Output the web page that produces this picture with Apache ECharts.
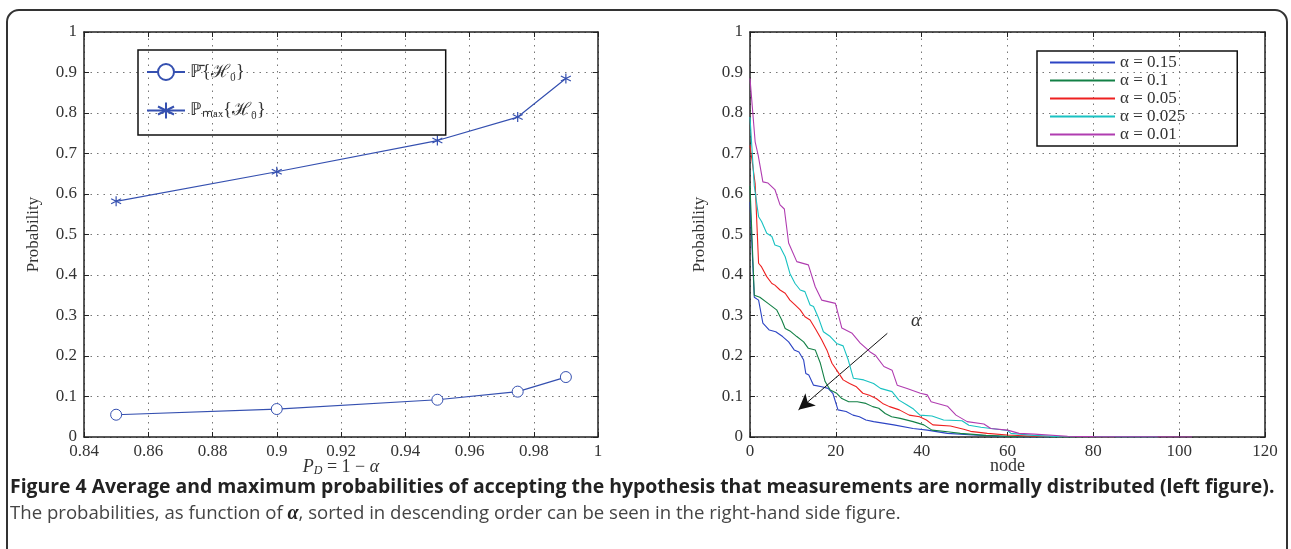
<!DOCTYPE html>
<html>
<head>
<meta charset="utf-8">
<script src="https://cdn.jsdelivr.net/npm/echarts@6/dist/echarts.min.js"></script>
<style>
  html, body { margin: 0; padding: 0; background: #fff; }
  #chart { width: 1291px; height: 549px; }
</style>
</head>
<body>
<div id="chart"></div>
<script>
// left figure: detection probability P_D = 1 - alpha
const pdValues = [0.85, 0.9, 0.95, 0.975, 0.99];
const probMean = [0.055, 0.069, 0.092, 0.112, 0.148];
const probMax = [0.582, 0.655, 0.732, 0.79, 0.885];

// right figure: sorted probabilities per node, [node, probability]
const alpha015 = [[0,0.58],[1,0.345],[2,0.338],[3,0.281],[4.5,0.264],[6,0.26],[7.6,0.248],[9,0.235],[10.3,0.215],[11.4,0.21],[12.5,0.19],[13,0.157],[13.7,0.153],[14.8,0.128],[16.7,0.124],[18.2,0.12],[19.3,0.108],[20.5,0.067],[22.4,0.063],[24,0.054],[25.5,0.05],[27,0.042],[28.8,0.038],[33.5,0.03],[38,0.021],[41.3,0.017],[46,0.009],[52,0.005],[58,0.002],[64,0],[70,0]];
const alpha01 = [[0,0.62],[1,0.35],[2.3,0.345],[4.2,0.33],[6.2,0.314],[7.4,0.289],[8.2,0.268],[9.3,0.262],[10.9,0.248],[12.5,0.235],[13.6,0.219],[15.2,0.215],[16.4,0.182],[17.5,0.137],[18.7,0.116],[20.2,0.108],[21.4,0.095],[23,0.087],[25,0.087],[27,0.083],[28.6,0.075],[30,0.071],[31.5,0.058],[33,0.05],[35,0.046],[38,0.038],[40.5,0.03],[42.4,0.017],[46,0.013],[49,0.009],[55,0.004],[62,0.001],[75,0]];
const alpha005 = [[0,0.72],[1.2,0.626],[2,0.429],[2.7,0.42],[3.9,0.396],[5.1,0.379],[5.8,0.375],[7,0.363],[8.2,0.355],[9.3,0.338],[10.5,0.326],[11.7,0.314],[12.8,0.297],[14,0.289],[15.2,0.268],[16.7,0.24],[17.9,0.215],[19.1,0.182],[20.2,0.165],[21.7,0.141],[23.2,0.132],[24.8,0.124],[26.3,0.108],[27.8,0.103],[29.4,0.095],[30.9,0.083],[32.5,0.075],[34.8,0.067],[37.1,0.054],[39.5,0.05],[41.1,0.042],[42.6,0.03],[46.7,0.027],[49.8,0.019],[51.4,0.014],[55.3,0.009],[60,0.005],[66,0.002],[85,0]];
const alpha0025 = [[0,0.79],[1,0.62],[2,0.544],[2.7,0.532],[3.9,0.503],[5.1,0.495],[5.8,0.474],[7,0.47],[8.2,0.445],[9.3,0.404],[10.5,0.379],[11.7,0.363],[12.8,0.359],[14,0.326],[14.8,0.322],[16,0.293],[17.1,0.26],[18.7,0.248],[20.2,0.231],[21.7,0.225],[22.9,0.19],[24.1,0.145],[26.5,0.141],[28.8,0.132],[30.4,0.12],[33.1,0.112],[34.7,0.091],[36.6,0.079],[38.1,0.069],[39.6,0.054],[42.4,0.052],[45.1,0.042],[49.4,0.04],[51,0.029],[53.8,0.024],[60,0.016],[60.8,0.009],[66,0.004],[72,0.001],[95,0]];
const alpha001 = [[0,0.886],[1.2,0.729],[1.9,0.696],[3,0.63],[4.2,0.627],[5.8,0.611],[7,0.573],[8,0.563],[9,0.479],[10.9,0.433],[13.6,0.425],[15.2,0.371],[16.7,0.338],[19.9,0.33],[21.4,0.269],[23.8,0.256],[25.7,0.232],[28,0.21],[29.2,0.202],[31.2,0.174],[33.1,0.165],[34.3,0.128],[36.6,0.12],[39.7,0.108],[41.3,0.104],[42.2,0.087],[46,0.076],[48,0.054],[50.6,0.038],[54.5,0.032],[56.1,0.021],[60,0.017],[62.7,0.009],[66.2,0.007],[74,0.002],[80,0.001],[103,0]];

const alphaNames = ["α = 0.15", "α = 0.1", "α = 0.05", "α = 0.025", "α = 0.01"];
const alphaColors = ["#2c44c4", "#138046", "#ee2020", "#19c2c2", "#b03cb0"];
const alphaSeries = [alpha015, alpha01, alpha005, alpha0025, alpha001];

// arrow annotation (data coords)
const arrowFrom = [32, 0.256];
const arrowTo = [11.3, 0.067];

const serif = "Liberation Serif";
const blue = "#3550b0";
const asterisk = "path://M0,-5L0,5M-4.33,-2.5L4.33,2.5M-4.33,2.5L4.33,-2.5";

const chart = echarts.init(document.getElementById("chart"));

function baseX(grid, min, max, interval, name, pos) {
  const labels = pos === "bottom";
  return {
    type: "value",
    gridIndex: grid,
    position: pos,
    min: min,
    max: max,
    interval: interval,
    name: labels ? name : "",
    nameLocation: "middle",
    nameGap: 20,
    nameMoveOverlap: false,
    nameTextStyle: { fontFamily: serif, fontSize: 18, color: "#333", rich: {
      i: { fontFamily: serif, fontStyle: "italic", fontSize: 18, color: "#333" },
      s: { fontFamily: serif, fontStyle: "italic", fontSize: 12, color: "#333", verticalAlign: "bottom", padding: [8, 0, 0, 0] },
      n: { fontFamily: serif, fontSize: 18, color: "#333" }
    } },
    axisLine: { show: true, onZero: false, lineStyle: { color: "#222", width: 1.5 } },
    axisTick: { show: true, inside: true, length: 5, lineStyle: { color: "#222" } },
    axisLabel: { show: labels, fontFamily: serif, fontSize: 17, color: "#333", margin: 6,
      formatter: v => String(+v.toFixed(3)) },
    splitLine: { show: labels, lineStyle: { color: "#777", type: [1.5, 5], width: 1 } }
  };
}

function baseY(grid, pos) {
  const labels = pos === "left";
  return {
    type: "value",
    gridIndex: grid,
    position: pos,
    min: 0,
    max: 1,
    interval: 0.1,
    name: labels ? "Probability" : "",
    nameLocation: "middle",
    nameGap: 42,
    nameMoveOverlap: false,
    nameTextStyle: { fontFamily: serif, fontSize: 17, color: "#333" },
    axisLine: { show: true, onZero: false, lineStyle: { color: "#222", width: 1.5 } },
    axisTick: { show: true, inside: true, length: 5, lineStyle: { color: "#222" } },
    axisLabel: { show: labels, fontFamily: serif, fontSize: 17, color: "#333", margin: 7,
      formatter: v => String(+v.toFixed(3)) },
    splitLine: { show: labels, lineStyle: { color: "#777", type: [1.5, 5], width: 1 } }
  };
}

const option = {
  animation: false,
  backgroundColor: "#fff",
  grid: [
    { left: 84, right: 693, top: 32, bottom: 112 },
    { left: 750, right: 26, top: 32, bottom: 112 }
  ],
  xAxis: [
    baseX(0, 0.84, 1, 0.02, "{i|P}{s|D}{n| = 1 − }{i|α}", "bottom"),
    baseX(0, 0.84, 1, 0.02, "", "top"),
    baseX(1, 0, 120, 20, "node", "bottom"),
    baseX(1, 0, 120, 20, "", "top")
  ],
  yAxis: [
    baseY(0, "left"),
    baseY(0, "right"),
    baseY(1, "left"),
    baseY(1, "right")
  ],
  legend: [
    {
      orient: "vertical",
      left: 138,
      top: 50,
      data: ["ℙ̄{ℋ₀}", "ℙₘₐₓ{ℋ₀}"],
      itemWidth: 38,
      itemHeight: 20,
      itemGap: 19,
      padding: [13, 180, 14, 8],
      borderColor: "#111",
      borderWidth: 1.5,
      borderRadius: 0,
      textStyle: { fontFamily: serif, fontSize: 18, color: "#333" }
    },
    {
      orient: "vertical",
      left: 1037,
      top: 51,
      data: alphaNames,
      icon: "rect",
      itemWidth: 65,
      itemHeight: 2,
      itemGap: 1,
      padding: [3, 52, 3, 13],
      borderColor: "#111",
      borderWidth: 1.5,
      borderRadius: 0,
      textStyle: { fontFamily: serif, fontSize: 17, color: "#333" }
    }
  ],
  series: [
    {
      name: "ℙ̄{ℋ₀}",
      type: "line",
      xAxisIndex: 0,
      yAxisIndex: 0,
      data: pdValues.map((x, i) => [x, probMean[i]]),
      symbol: "circle",
      symbolSize: 11,
      showAllSymbol: true,
      itemStyle: { color: "#fff", borderColor: blue, borderWidth: 1 },
      lineStyle: { color: blue, width: 1.2 }
    },
    {
      name: "ℙₘₐₓ{ℋ₀}",
      type: "line",
      xAxisIndex: 0,
      yAxisIndex: 0,
      data: pdValues.map((x, i) => [x, probMax[i]]),
      symbol: asterisk,
      symbolSize: 10,
      itemStyle: { color: "none", borderColor: blue, borderWidth: 1.2 },
      lineStyle: { color: blue, width: 1.2 }
    }
  ].concat(alphaSeries.map((d, i) => ({
    name: alphaNames[i],
    type: "line",
    xAxisIndex: 2,
    yAxisIndex: 2,
    data: d,
    showSymbol: false,
    symbol: "none",
    color: alphaColors[i],
    lineStyle: { color: alphaColors[i], width: 1.1 },
    z: 3 + i,
    markLine: i === 0 ? {
      silent: true,
      symbol: ["none", "arrow"],
      symbolSize: [12, 16],
      label: { show: false },
      lineStyle: { color: "#111", width: 1, type: "solid" },
      data: [[{ coord: arrowFrom }, { coord: arrowTo }]]
    } : undefined
  }))),
  graphic: [
    {
      type: "rect",
      shape: { x: 7, y: 10, width: 1280, height: 620, r: 12 },
      style: { fill: "none", stroke: "#333", lineWidth: 2 },
      silent: true,
      z: 100
    },
    {
      type: "text",
      left: 911,
      top: 311,
      style: { text: "α", font: "italic 19px 'Liberation Serif'", fill: "#333" }
    },
    {
      type: "text",
      left: 10,
      top: 478,
      style: {
        text: "Figure 4 Average and maximum probabilities of accepting the hypothesis that measurements are normally distributed (left figure).",
        font: "bold 19.4px 'Open Sans'",
        fill: "#222"
      }
    },
    {
      type: "text",
      left: 10,
      top: 504,
      style: {
        text: "The probabilities, as function of {a|α}, sorted in descending order can be seen in the right-hand side figure.",
        font: "18.6px 'Open Sans'",
        fill: "#444",
        rich: { a: { font: "bold italic 20px 'Liberation Serif'", fill: "#222" } }
      }
    }
  ]
};

chart.setOption(option);
</script>
</body>
</html>
